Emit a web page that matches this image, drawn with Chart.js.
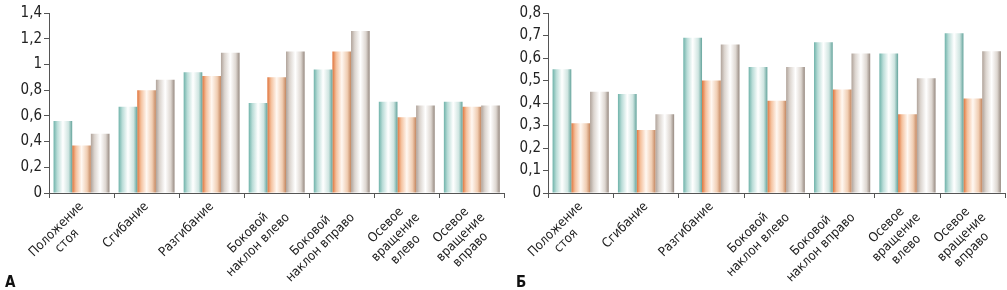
<!DOCTYPE html>
<html lang="ru">
  <head>
    <meta charset="UTF-8" />
    <title>Показатели по движениям</title>
    <script src="https://cdn.jsdelivr.net/npm/chart.js"></script>
    <style>
      body { margin: 0; background: #fff; width: 1007px; height: 290px; position: relative; overflow: hidden; }
      canvas { position: absolute; top: 0; }
      #chartA { left: 0; }
      #chartB { left: 500px; }
      .panel { position: absolute; top: 273px; font: bold 15px "Liberation Sans Narrow", "DejaVu Sans Condensed", sans-serif; color: #111; }
    </style>
  </head>
  <body>
    <canvas id="chartA" width="506" height="290"></canvas>
    <canvas id="chartB" width="507" height="290"></canvas>
    <div class="panel" style="left:5px">А</div>
    <div class="panel" style="left:516px">Б</div>

    <script>
      // === Données ===
      const categories = [
        ["Положение", "стоя"],
        ["Сгибание"],
        ["Разгибание"],
        ["Боковой", "наклон влево"],
        ["Боковой", "наклон вправо"],
        ["Осевое", "вращение", "влево"],
        ["Осевое", "вращение", "вправо"],
      ];

      // panel А
      const tealA = [0.56, 0.67, 0.94, 0.70, 0.96, 0.71, 0.71];
      const orangeA = [0.37, 0.80, 0.91, 0.90, 1.10, 0.59, 0.67];
      const greyA = [0.46, 0.88, 1.09, 1.10, 1.26, 0.68, 0.68];

      // panel Б
      const tealB = [0.55, 0.44, 0.69, 0.56, 0.67, 0.62, 0.71];
      const orangeB = [0.31, 0.28, 0.50, 0.41, 0.46, 0.35, 0.42];
      const greyB = [0.45, 0.35, 0.66, 0.56, 0.62, 0.51, 0.63];

      const font = "'Liberation Sans Narrow', 'DejaVu Sans Condensed', sans-serif";
      const labelSize = 13;

      // cylinder-like shading: edge colour -> white -> edge colour
      const tealStops = ["#6fb3aa", "#b9dcd7", "#ffffff", "#cfe5e1", "#64a49c"];
      const orangeStops = ["#e0733a", "#f4c09c", "#fff8f2", "#f0cdb2", "#c48760"];
      const greyStops = ["#b0a39a", "#dcd5cf", "#ffffff", "#ddd6d0", "#978a81"];

      function barFill(stops) {
        return (ctx) => {
          if (ctx.type !== "data") return stops[0];
          const el = ctx.chart.getDatasetMeta(ctx.datasetIndex).data[ctx.dataIndex];
          if (!el || !el.width) return stops[0];
          const g = ctx.chart.ctx.createLinearGradient(el.x - el.width / 2, 0, el.x + el.width / 2, 0);
          g.addColorStop(0, stops[0]);
          g.addColorStop(0.2, stops[1]);
          g.addColorStop(0.5, stops[2]);
          g.addColorStop(0.8, stops[3]);
          g.addColorStop(1, stops[4]);
          return g;
        };
      }

      function fmt(v) {
        return parseFloat(v.toFixed(1)).toString().replace(".", ",");
      }

      // rotated labels are right-aligned by Chart.js; pad short lines so they look centred
      const measure = document.createElement("canvas").getContext("2d");
      measure.font = labelSize + "px " + font;
      function centredLines(index) {
        const lines = categories[index];
        const widths = lines.map((l) => measure.measureText(l).width);
        const maxW = Math.max(...widths);
        const sp = measure.measureText(" ").width;
        return lines.map((l, i) => l + " ".repeat(Math.round((maxW - widths[i]) / 2 / sp)));
      }

      function makeChart(id, series, max, step, axisWidth) {
        const chart = new Chart(document.getElementById(id), {
          type: "bar",
          data: {
            labels: categories,
            datasets: [
              { data: series[0], backgroundColor: barFill(tealStops) },
              { data: series[1], backgroundColor: barFill(orangeStops) },
              { data: series[2], backgroundColor: barFill(greyStops) },
            ],
          },
          options: {
            responsive: false,
            animation: false,
            events: [],
            layout: { padding: { top: 13, right: 1, bottom: 0, left: 0 } },
            datasets: { bar: { categoryPercentage: 0.86, barPercentage: 1.0 } },
            plugins: { legend: { display: false }, tooltip: { enabled: false } },
            scales: {
              x: {
                grid: { display: true, drawOnChartArea: false, drawTicks: true, tickLength: 5, offset: true, color: "#555" },
                border: { color: "#555", width: 1 },
                ticks: {
                  minRotation: 45,
                  maxRotation: 45,
                  autoSkip: false,
                  padding: 1,
                  color: "#222",
                  font: { family: font, size: labelSize },
                  callback: (v, i) => centredLines(i),
                },
                afterFit: (scale) => { scale.height = 97; },
              },
              y: {
                min: 0,
                max: max,
                grid: { display: true, drawOnChartArea: false, drawTicks: true, tickLength: 5, color: "#555" },
                border: { color: "#555", width: 1 },
                ticks: {
                  stepSize: step,
                  padding: 2,
                  color: "#222",
                  font: { family: font, size: 15 },
                  callback: (v) => fmt(v),
                },
                afterFit: (scale) => { scale.width = axisWidth; },
              },
            },
          },
        });
        // second pass so the gradients know each bar's position
        chart.update();
        return chart;
      }

      makeChart("chartA", [tealA, orangeA, greyA], 1.4, 0.2, 49);
      makeChart("chartB", [tealB, orangeB, greyB], 0.8, 0.1, 48);
    </script>
  </body>
</html>
